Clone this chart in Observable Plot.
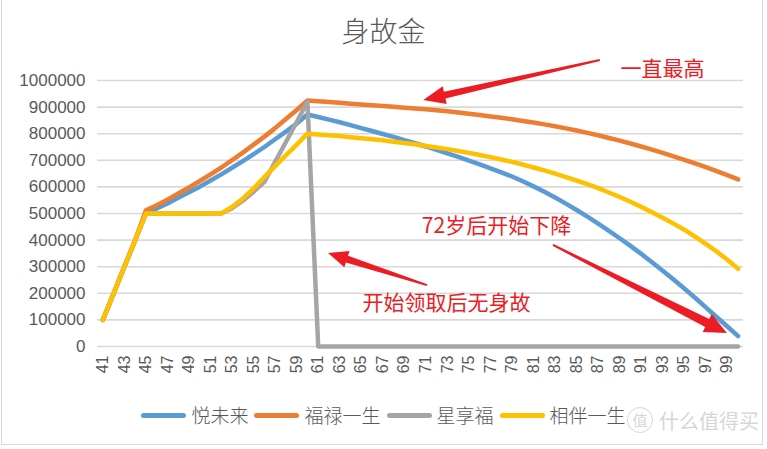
<!DOCTYPE html>
<html>
<head>
<meta charset="utf-8">
<script src="https://cdn.jsdelivr.net/npm/d3@7"></script>
<script src="https://cdn.jsdelivr.net/npm/@observablehq/plot@0.6"></script>
<style>
  html, body { margin: 0; padding: 0; background: #fff; }
  #wrap { position: relative; width: 767px; height: 449px; background: #fff; overflow: hidden;
          font-family: "Noto Sans CJK SC", "Liberation Sans", sans-serif; }
  #title { position: absolute; left: 0; top: 14px; width: 767px; text-align: center;
           font-size: 28px; line-height: 32px; color: #595959; font-weight: 300; }
  #chart { position: absolute; left: 0; top: 0; }
  #legend { position: absolute; left: 0; top: 404px; width: 767px; height: 22px;
            display: flex; justify-content: center; align-items: center; }
  .item { display: flex; align-items: center; margin: 0 3px; }
  .sw { width: 45px; height: 5px; border-radius: 3px; margin-right: 5px; }
  .lb { font-size: 19px; line-height: 22px; color: #595959; font-weight: 300; }
  #wm { position: absolute; left: 627px; top: 405px; height: 30px; display: flex; align-items: center; color: #d6d6d6; }
  #wm .c { width: 24px; height: 24px; border: 1.5px solid #d6d6d6; border-radius: 50%; font-size: 15px;
           line-height: 24px; text-align: center; margin-right: 6px; }
  #wm .t { font-size: 20px; }
  #frame { position: absolute; left: 1px; top: -2px; width: 760px; height: 446px;
           border: 1px solid #d9d9d9; border-top: none; }
</style>
</head>
<body>
<div id="wrap">
  <div id="title"></div>
  <div id="chart"></div>
  <div id="legend"></div>
  <div id="wm"><div class="c">值</div><div class="t">什么值得买</div></div>
  <div id="frame"></div>
</div>
<script>
// ---------- data ----------
const chartTitle = "身故金";
const ages = [41,42,43,44,45,46,47,48,49,50,51,52,53,54,55,56,57,58,59,60,
              61,62,63,64,65,66,67,68,69,70,71,72,73,74,75,76,77,78,79,80,
              81,82,83,84,85,86,87,88,89,90,91,92,93,94,95,96,97,98,99,100];
const tickAges = [41,43,45,47,49,51,53,55,57,59,61,63,65,67,69,71,73,75,77,79,
                  81,83,85,87,89,91,93,95,97,99];
const yTicks = [0,100000,200000,300000,400000,500000,600000,700000,800000,900000,1000000];
const seriesNames = ["悦未来","福禄一生","星享福","相伴一生"];

const yueWeiLai = [100000,200000,300000,400000,500000,519000,538000,559000,580000,601000,
  624000,647000,672000,697000,723000,750000,779000,808000,838000,872000,
  863000,853000,843000,832000,821000,810000,799000,788000,776000,764000,
  752000,739000,726000,713000,699000,685000,670000,655000,639000,621000,
  602000,582000,560000,537000,513000,488000,462000,435000,407000,378000,
  348000,317000,285000,252000,218000,183000,147000,111000,75000,39000];

const fuLuYiSheng = [100000,200000,300000,400000,512000,531000,552000,575000,598000,622000,
  647000,673000,701000,729000,759000,789000,821000,855000,889000,925000,
  922000,919000,916000,913000,910000,907000,904000,901000,898000,895000,
  892000,888000,884000,880000,875000,870000,865000,860000,854000,848000,
  842000,835000,828000,820000,812000,803000,794000,784000,774000,763000,
  752000,740000,728000,715000,702000,688000,674000,659000,644000,628000];

const xingXiangFu = [100000,200000,300000,400000,500000,500000,500000,500000,500000,500000,
  500000,500000,520000,548000,582000,619000,694000,769000,844000,920000,
  0,0,0,0,0,0,0,0,0,0,
  0,0,0,0,0,0,0,0,0,0,
  0,0,0,0,0,0,0,0,0,0,
  0,0,0,0,0,0,0,0,0,0];

const xiangBanYiSheng = [100000,200000,300000,400000,500000,500000,500000,500000,500000,500000,
  500000,500000,525000,556000,594000,637000,678000,719000,759000,800000,
  797000,794000,791000,787000,783000,779000,775000,770000,765000,760000,
  754000,748000,742000,735000,728000,720000,712000,703000,694000,684000,
  673000,662000,650000,637000,624000,610000,595000,579000,562000,544000,
  525000,505000,484000,462000,439000,413000,386000,357000,326000,292000];

// annotations (data space)
const noteTexts = ["一直最高","72岁后开始下降","开始领取后无身故"];
const noteAges = [92.98, 77.56, 72.91];
const noteValues = [1041000, 451000, 162000];
const arrowTailAges = [87.2, 82.85, 71.15];
const arrowTailValues = [1075000, 380000, 229000];
const arrowHeadAges = [70.8, 99.0, 61.95];
const arrowHeadValues = [925000, 49000, 350000];

// ---------- styles ----------
const seriesColors = ["#5b9bd5","#ed7d31","#a5a5a5","#ffc000"];
const red = "#ec1c24";
const arrowShapes = [
  {tail: 2, neck: 7, head: 18, len: 22},
  {tail: 2, neck: 9, head: 20, len: 22},
  {tail: 2, neck: 7, head: 17, len: 20}
];

// ---------- build ----------
document.getElementById("title").textContent = chartTitle;

const seriesValues = [yueWeiLai, fuLuYiSheng, xingXiangFu, xiangBanYiSheng];
const tables = seriesValues.map((vals, i) =>
  ages.map((a, j) => ({age: a, value: vals[j], series: seriesNames[i]})));
const notes = noteTexts.map((t, i) => ({text: t, age: noteAges[i], value: noteValues[i]}));

const font = "'Liberation Sans', 'Noto Sans CJK SC', sans-serif";

const chart = Plot.plot({
  width: 767,
  height: 449,
  marginTop: 80,
  marginBottom: 103,
  marginLeft: 97,
  marginRight: 24,
  style: {background: "transparent", fontFamily: font, color: "#595959"},
  x: {type: "linear", domain: [40.5, 100.5]},
  y: {type: "linear", domain: [0, 1000000]},
  marks: [
    Plot.gridY(yTicks, {stroke: "#d9d9d9", strokeOpacity: 1, strokeWidth: 1.6}),
    Plot.axisY({ticks: yTicks, tickSize: 0, tickPadding: 12, fontSize: 17, fill: "#595959",
                tickFormat: d => String(d), label: null}),
    Plot.axisX({ticks: tickAges, tickSize: 0, tickPadding: 9, tickRotate: -90, fontSize: 16,
                fill: "#595959", tickFormat: d => String(d), label: null}),
    ...tables.map((t, i) => Plot.line(t, {
      x: "age", y: "value", stroke: seriesColors[i], strokeWidth: 4.5,
      strokeLinejoin: "round", strokeLinecap: "round"
    })),
    Plot.text(notes, {x: "age", y: "value", text: "text", fill: red, fontSize: 21,
                      fontFamily: "'Noto Sans CJK SC', sans-serif"})
  ]
});
document.getElementById("chart").appendChild(chart);

// tapered arrows drawn with the plot's own scales
const sx = chart.scale("x"), sy = chart.scale("y");
const svg = d3.select(chart);
arrowTailAges.forEach((ta, i) => {
  const x0 = sx.apply(ta), y0 = sy.apply(arrowTailValues[i]);
  const x1 = sx.apply(arrowHeadAges[i]), y1 = sy.apply(arrowHeadValues[i]);
  const s = arrowShapes[i];
  const dx = x1 - x0, dy = y1 - y0, L = Math.hypot(dx, dy);
  const ux = dx / L, uy = dy / L, nx = -uy, ny = ux;
  const bx = x1 - ux * s.len, by = y1 - uy * s.len;
  const pts = [
    [x0 + nx * s.tail / 2, y0 + ny * s.tail / 2],
    [bx + nx * s.neck / 2, by + ny * s.neck / 2],
    [bx + nx * s.head / 2, by + ny * s.head / 2],
    [x1, y1],
    [bx - nx * s.head / 2, by - ny * s.head / 2],
    [bx - nx * s.neck / 2, by - ny * s.neck / 2],
    [x0 - nx * s.tail / 2, y0 - ny * s.tail / 2]
  ];
  svg.append("path").attr("d", "M" + pts.map(p => p.join(",")).join("L") + "Z").attr("fill", red);
});

// legend
const legend = d3.select("#legend");
seriesNames.forEach((n, i) => {
  const it = legend.append("div").attr("class", "item");
  it.append("div").attr("class", "sw").style("background", seriesColors[i]);
  it.append("div").attr("class", "lb").text(n);
});
</script>
</body>
</html>
